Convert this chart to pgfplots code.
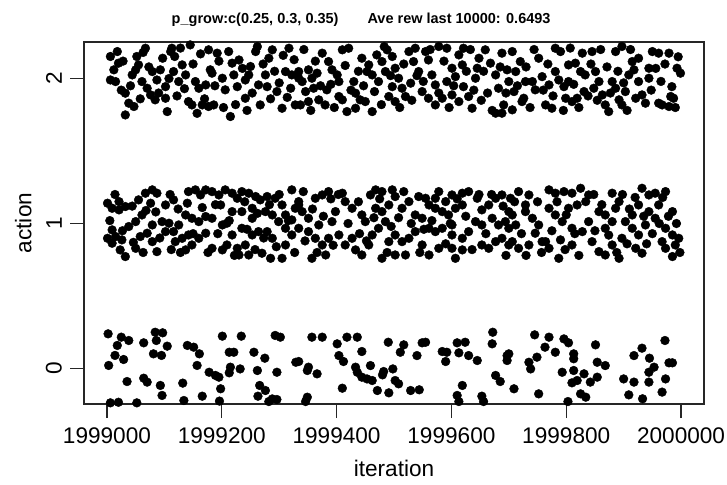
\documentclass[border=0pt]{standalone}
\usepackage{pgfplots}
\pgfplotsset{compat=1.18}
\usepackage{fontspec}
\setmainfont{Liberation Sans}
\begin{document}
\begin{tikzpicture}
\begin{axis}[
  scale only axis, width=620pt, height=362pt,
  xmin=1998960, xmax=2000040, ymin=-0.245, ymax=2.252,
  axis line style={line width=1.2pt, black!85},
  scaled x ticks=false,
  xtick={1999000,1999200,1999400,1999600,1999800,2000000},
  xticklabels={1999000,1999200,1999400,1999600,1999800,2000000},
  ytick={0,1,2},
  yticklabels={0,1,2},
  xtick pos=bottom, ytick pos=left,
  tick align=outside, major tick length=14pt,
  tick style={line width=1.2pt, black!85},
  xticklabel style={font=\fontsize{22.6}{27}\selectfont, inner sep=0pt, anchor=north, yshift=-10pt},
  yticklabel style={font=\fontsize{22.6}{27}\selectfont, inner sep=0pt, xshift=-8pt, rotate=90, anchor=south},
  clip mode=individual,
]
% action 0
\addplot[only marks, mark=*, mark size=4.4pt, black] table {
1999002 0.239
1999025 0.216
1999038 0.193
1999018 0.159
1999014 0.090
1999029 0.062
1999003 0.021
1999064 0.177
1999084 0.250
1999097 0.246
1999086 0.193
1999105 0.154
1999081 0.101
1999095 0.090
1999140 0.159
1999151 0.147
1999161 0.101
1999157 0.021
1999035 -0.090
1999064 -0.067
1999070 -0.094
1999093 -0.117
1999096 -0.186
1999132 -0.101
1999134 -0.221
1999166 -0.191
1999178 -0.026
1999189 -0.048
1999195 -0.060
1999198 -0.140
1999196 -0.225
1999201 0.223
1999213 0.112
1999221 0.112
1999215 0.009
1999213 -0.030
1999232 -0.003
1999234 0.223
1999256 0.112
1999275 0.071
1999262 -0.014
1999266 -0.117
1999276 -0.152
1999263 -0.191
1999282 -0.228
1999296 -0.026
1999293 0.228
1999302 0.216
1999329 0.043
1999006 -0.237
1999020 -0.233
1999052 -0.237
1999296 -0.214
1999288 -0.210
1999357 0.216
1999375 0.216
1999401 0.170
1999418 0.216
1999436 0.216
1999444 0.117
1999404 0.089
1999412 0.048
1999433 0.009
1999436 -0.026
1999444 -0.060
1999459 0.020
1999453 -0.072
1999462 -0.083
1999482 -0.021
1999480 -0.044
1999498 -0.003
1999502 -0.083
1999508 -0.106
1999490 0.181
1999517 0.163
1999511 0.112
1999540 0.089
1999549 0.177
1999555 0.181
1999584 0.117
1999592 0.112
1999590 0.048
1999610 0.177
1999624 0.181
1999613 0.108
1999630 0.089
1999645 0.055
1999672 0.250
1999671 0.170
1999677 -0.048
1999685 -0.090
1999697 0.089
1999334 0.048
1999351 0.009
1999349 -0.014
1999366 -0.037
1999410 -0.136
1999471 -0.152
1999491 -0.168
1999529 -0.152
1999544 -0.147
1999619 -0.117
1999610 -0.186
1999613 -0.228
1999653 -0.191
1999656 -0.228
1999349 -0.198
1999346 -0.228
1999745 0.232
1999770 0.216
1999796 0.204
1999804 0.177
1999851 0.163
1999763 0.147
1999781 0.112
1999813 0.101
1999813 0.067
1999972 0.193
1999932 0.140
1999918 0.089
1999945 0.071
1999979 0.039
1999985 0.039
1999854 0.043
1999868 0.020
1999749 0.078
1999735 0.043
1999738 -0.003
1999700 0.101
1999697 0.055
1999793 -0.026
1999813 -0.014
1999831 -0.037
1999819 -0.083
1999810 -0.099
1999842 -0.094
1999854 -0.060
1999900 -0.072
1999918 -0.094
1999944 -0.094
1999953 0.009
1999973 -0.072
1999944 -0.026
1999709 -0.140
1999752 -0.175
1999825 -0.175
1999834 -0.198
1999803 -0.228
1999909 -0.182
1999933 -0.209
1999967 -0.163
};
% action 1
\addplot[only marks, mark=*, mark size=4.4pt, black] table {
1999001 1.140
1999009 1.105
1999021 1.151
1999021 1.094
1999032 1.117
1999055 1.163
1999067 1.209
1999079 1.232
1999087 1.209
1999076 1.140
1999102 1.128
1999116 1.163
1999142 1.220
1999154 1.232
1999163 1.197
1999172 1.232
1999183 1.220
1999195 1.197
1999206 1.232
1999218 1.209
1999227 1.174
1999235 1.220
1999247 1.209
1999259 1.186
1999267 1.163
1999279 1.186
1999293 1.174
1999305 1.128
1999322 1.232
1999328 1.105
1999198 1.128
1999218 1.082
1999235 1.082
1999253 1.105
1999276 1.082
1999288 1.059
1999311 1.059
1999322 1.025
1999137 1.059
1999148 1.036
1999160 1.013
1999172 1.048
1999183 1.036
1999201 0.990
1999209 1.002
1999125 0.990
1999108 1.002
1999096 1.013
1999079 0.990
1999061 1.059
1999050 1.013
1999038 0.979
1999009 0.956
1999015 0.910
1999001 0.898
1999009 0.864
1999026 0.887
1999023 0.818
1999032 0.772
1999050 0.829
1999058 0.910
1999070 0.933
1999079 0.875
1999087 0.806
1999102 0.944
1999116 0.944
1999119 0.875
1999131 0.898
1999137 0.818
1999148 0.852
1999160 0.898
1999183 0.829
1999201 0.818
1999209 0.852
1999218 0.921
1999227 0.829
1999241 0.852
1999253 0.921
1999264 0.944
1999279 0.944
1999288 0.898
1999247 0.783
1999270 0.795
1999285 0.760
1999305 0.760
1999311 0.852
1999322 0.921
1999334 0.967
1999235 0.967
1999311 0.967
1999299 1.013
1999334 1.151
1999253 1.036
1999142 0.921
1999230 0.783
1999172 0.933
1999334 1.128
1999340 1.082
1999351 1.036
1999363 1.174
1999375 1.197
1999386 1.220
1999369 0.990
1999351 0.944
1999363 0.898
1999375 0.852
1999357 0.760
1999381 0.783
1999398 1.082
1999392 1.013
1999410 1.209
1999415 1.151
1999427 1.105
1999404 0.921
1999415 0.852
1999427 0.898
1999433 0.818
1999444 0.783
1999450 1.013
1999459 1.197
1999468 1.232
1999479 1.220
1999497 1.232
1999502 1.186
1999468 1.105
1999479 1.082
1999491 1.128
1999514 1.105
1999526 1.151
1999543 1.186
1999555 1.174
1999537 1.059
1999549 1.036
1999561 1.128
1999572 1.105
1999584 1.082
1999595 1.059
1999607 1.105
1999619 1.128
1999572 1.174
1999590 1.151
1999601 1.197
1999619 1.209
1999630 1.220
1999645 1.174
1999653 1.094
1999665 1.128
1999677 1.174
1999688 1.197
1999700 1.082
1999642 1.013
1999653 0.990
1999671 1.036
1999682 0.990
1999694 1.013
1999630 0.944
1999619 0.898
1999601 0.921
1999584 0.967
1999572 0.944
1999561 0.967
1999537 0.944
1999526 0.898
1999514 0.875
1999502 0.921
1999491 0.875
1999473 0.967
1999462 0.921
1999456 0.852
1999479 0.760
1999502 0.783
1999520 0.783
1999561 0.783
1999601 0.829
1999607 0.760
1999619 0.818
1999665 0.829
1999677 0.875
1999653 0.852
1999688 0.898
1999700 0.852
1999549 0.852
1999578 0.829
1999601 0.990
1999485 1.013
1999444 1.059
1999386 0.898
1999703 1.174
1999717 1.220
1999735 1.197
1999729 1.128
1999706 1.059
1999700 0.967
1999712 0.990
1999706 0.875
1999717 0.829
1999741 1.036
1999752 0.990
1999746 0.933
1999758 0.875
1999770 1.232
1999781 1.209
1999796 1.220
1999810 1.209
1999825 1.243
1999770 1.105
1999781 1.059
1999793 1.013
1999804 1.105
1999819 1.128
1999834 1.151
1999810 0.967
1999828 0.944
1999839 1.013
1999845 0.875
1999770 0.829
1999787 0.760
1999764 0.875
1999857 1.082
1999868 1.059
1999880 1.209
1999892 1.151
1999886 1.105
1999880 1.013
1999868 0.967
1999857 0.806
1999868 0.783
1999892 0.760
1999880 0.852
1999897 0.898
1999903 1.013
1999915 1.059
1999926 1.128
1999932 1.243
1999944 1.197
1999955 1.209
1999973 1.220
1999961 1.128
1999955 1.036
1999944 1.082
1999985 1.082
1999973 0.967
1999985 0.921
1999996 0.898
1999990 0.852
1999967 0.875
1999973 0.829
1999985 0.772
1999926 0.921
1999915 0.967
1999938 0.990
1999921 0.829
1999932 0.795
1999839 1.197
1999810 0.852
1999790 0.887
1999735 0.852
1999729 1.082
1999005 1.02
1999014 1.20
1999027 0.95
1999044 1.12
1999046 0.87
1999063 0.80
1999068 1.09
1999085 1.08
1999092 0.90
1999110 1.20
1999112 0.82
1999124 1.10
1999128 0.80
1999140 1.14
1999150 0.93
1999166 1.11
1999176 0.80
1999189 1.13
1999193 0.93
1999213 1.02
1999222 0.78
1999240 1.15
1999244 0.96
1999258 0.82
1999262 1.07
1999273 0.90
1999283 1.13
1999295 0.84
1999300 1.20
1999316 1.02
1999327 0.80
1999342 1.22
1999345 0.88
1999358 1.10
1999366 0.80
1999377 1.05
1999390 1.17
1999394 0.85
1999403 1.20
1999420 1.00
1999438 1.15
1999440 0.93
1999452 0.88
1999465 1.04
1999475 1.17
1999488 0.80
1999495 0.98
1999508 1.04
1999517 1.22
1999530 1.00
1999545 0.80
1999552 0.96
1999566 1.02
1999578 1.22
1999590 0.86
1999598 1.00
1999610 1.17
1999625 1.05
1999636 0.82
1999648 1.20
1999660 0.93
1999670 1.20
1999690 1.12
1999695 0.78
1999710 1.15
1999722 0.93
1999730 0.78
1999750 1.15
1999757 0.80
1999775 0.95
1999784 1.15
1999798 0.82
1999800 1.06
1999815 0.93
1999822 0.78
1999848 1.20
1999850 0.95
1999862 1.13
1999874 0.92
1999888 0.80
1999898 1.20
1999906 0.86
1999910 1.10
1999920 1.18
1999935 1.05
1999940 0.86
1999950 0.93
1999962 1.00
1999968 1.18
1999978 1.05
1999992 1.00
1999998 0.80
};
% action 2
\addplot[only marks, mark=*, mark size=4.4pt, black] table {
1999006 2.152
1999018 2.186
1999020 2.106
1999012 2.060
1999006 1.990
1999015 1.979
1999032 1.899
1999038 1.830
1999032 1.749
1999047 1.807
1999052 2.152
1999055 2.094
1999050 2.060
1999044 2.025
1999067 2.209
1999061 1.979
1999070 1.933
1999079 2.048
1999084 1.853
1999087 1.990
1999102 1.944
1999102 1.864
1999105 1.772
1999113 2.209
1999118 2.152
1999116 2.048
1999125 1.979
1999131 2.094
1999137 2.025
1999142 1.841
1999148 1.818
1999154 1.979
1999160 1.933
1999166 1.818
1999177 1.807
1999186 1.818
1999172 1.956
1999180 2.060
1999183 2.037
1999177 2.198
1999192 2.175
1999201 2.002
1999206 1.922
1999212 2.186
1999218 2.106
1999221 2.025
1999227 1.944
1999215 1.738
1999230 2.128
1999241 1.864
1999247 2.025
1999241 1.990
1999250 2.083
1999259 2.186
1999264 1.956
1999267 1.818
1999276 2.025
1999279 1.944
1999282 2.140
1999288 2.198
1999296 1.910
1999305 1.795
1999311 2.048
1999317 2.209
1999320 1.933
1999328 1.818
1999322 2.025
1999334 2.002
1999145 2.232
1999111 2.186
1999093 2.060
1999076 1.887
1999334 2.048
1999340 1.979
1999351 2.060
1999357 2.002
1999346 1.910
1999360 1.933
1999337 1.818
1999351 1.841
1999369 1.853
1999380 1.818
1999375 2.175
1999386 2.117
1999392 2.060
1999401 2.025
1999404 1.979
1999410 2.198
1999421 2.209
1999430 1.979
1999433 1.899
1999441 1.853
1999450 1.841
1999462 1.772
1999418 1.772
1999410 1.853
1999444 2.140
1999456 2.094
1999453 2.048
1999462 2.025
1999470 2.163
1999479 2.117
1999485 2.048
1999473 1.979
1999488 2.198
1999497 2.152
1999502 2.071
1999508 2.002
1999497 1.944
1999491 1.876
1999502 1.841
1999514 1.933
1999520 1.876
1999529 1.968
1999526 2.186
1999534 2.117
1999543 2.048
1999555 2.186
1999560 2.128
1999566 2.025
1999572 1.956
1999549 1.910
1999560 1.864
1999572 1.818
1999584 1.864
1999592 1.979
1999601 2.071
1999613 2.163
1999619 2.094
1999607 2.013
1999621 1.944
1999601 1.887
1999613 1.841
1999630 1.876
1999636 1.795
1999642 2.002
1999648 2.140
1999659 2.198
1999668 2.106
1999677 2.025
1999688 2.175
1999682 1.933
1999691 1.818
1999677 1.761
1999688 1.761
1999697 2.060
1999592 2.209
1999578 2.221
1999621 2.209
1999645 2.071
1999537 2.209
1999433 1.795
1999383 1.922
1999404 1.876
1999366 2.037
1999706 2.186
1999720 2.117
1999712 2.048
1999700 1.979
1999709 1.910
1999723 1.841
1999706 1.784
1999741 1.979
1999746 1.922
1999752 2.140
1999758 2.013
1999764 1.818
1999775 1.795
1999781 2.209
1999790 2.186
1999781 2.048
1999796 1.944
1999799 1.864
1999810 1.841
1999819 1.864
1999804 2.094
1999816 2.106
1999825 2.048
1999833 2.025
1999828 2.175
1999845 2.186
1999851 2.048
1999857 1.979
1999848 1.933
1999863 1.887
1999868 1.818
1999874 1.772
1999880 1.979
1999886 1.933
1999892 1.853
1999897 1.818
1999903 1.910
1999886 2.186
1999897 2.221
1999915 2.117
1999918 2.060
1999926 1.979
1999932 1.887
1999926 2.140
1999944 2.002
1999950 2.186
1999961 2.175
1999979 2.175
1999993 2.071
1999999 2.037
1999984 1.944
1999982 1.876
1999967 1.818
1999979 1.807
1999961 1.830
1999987 1.864
1999944 2.071
1999909 2.025
1999804 1.979
1999729 1.979
1999726 1.864
1999770 1.956
1999831 1.910
1999921 1.864
1999025 1.92
1999028 2.12
1999041 1.95
1999058 1.86
1999063 2.18
1999073 2.08
1999090 1.90
1999097 2.14
1999108 2.00
1999122 1.88
1999128 2.21
1999135 1.93
1999150 2.10
1999157 1.76
1999163 2.17
1999170 1.86
1999188 1.95
1999195 2.12
1999203 1.80
1999224 1.82
1999236 2.07
1999244 1.78
1999253 1.90
1999262 2.22
1999272 2.10
1999285 1.86
1999292 2.05
1999300 1.97
1999307 2.16
1999314 1.87
1999326 2.13
1999343 2.20
1999355 1.78
1999363 2.12
1999372 1.95
1999390 1.96
1999396 1.80
1999415 2.09
1999425 1.92
1999438 2.05
1999447 1.95
1999466 1.91
1999478 1.82
1999483 2.22
1999494 2.02
1999510 1.80
1999517 2.10
1999531 1.85
1999540 2.02
1999551 1.98
1999563 2.20
1999578 1.90
1999587 2.12
1999596 1.80
1999604 1.95
1999626 2.05
1999633 2.20
1999639 1.92
1999652 1.85
1999656 2.05
1999663 1.90
1999671 1.78
1999685 2.08
1999695 1.90
1999715 1.95
1999730 2.08
1999737 1.80
1999744 2.20
1999760 1.92
1999768 2.10
1999777 1.88
1999787 1.99
1999795 1.78
1999807 2.21
1999813 1.96
1999822 1.80
1999838 1.88
1999843 2.10
1999854 1.85
1999860 2.20
1999871 2.08
1999877 1.90
1999890 2.05
1999900 1.97
1999906 1.78
1999912 2.20
1999938 1.83
1999948 1.92
1999956 2.07
1999965 1.98
1999972 2.10
1999990 1.80
1999995 2.15
};
\node[font=\bfseries\fontsize{14.5}{17}\selectfont, anchor=center] at (axis description cs:0.447,1.06) {p\_grow:c(0.25, 0.3, 0.35)\hspace{29pt}Ave rew last 10000: 0.6493};
\node[font=\fontsize{22.6}{27}\selectfont, anchor=center] at (axis description cs:0.5,-0.177) {iteration};
\node[font=\fontsize{22.6}{27}\selectfont, anchor=center, rotate=90] at (axis description cs:-0.098,0.5) {action};
\end{axis}
\path ([xshift=-84pt,yshift=-80pt]current axis.south west) rectangle ([xshift=23pt,yshift=42pt]current axis.north east);
\end{tikzpicture}
\end{document}
